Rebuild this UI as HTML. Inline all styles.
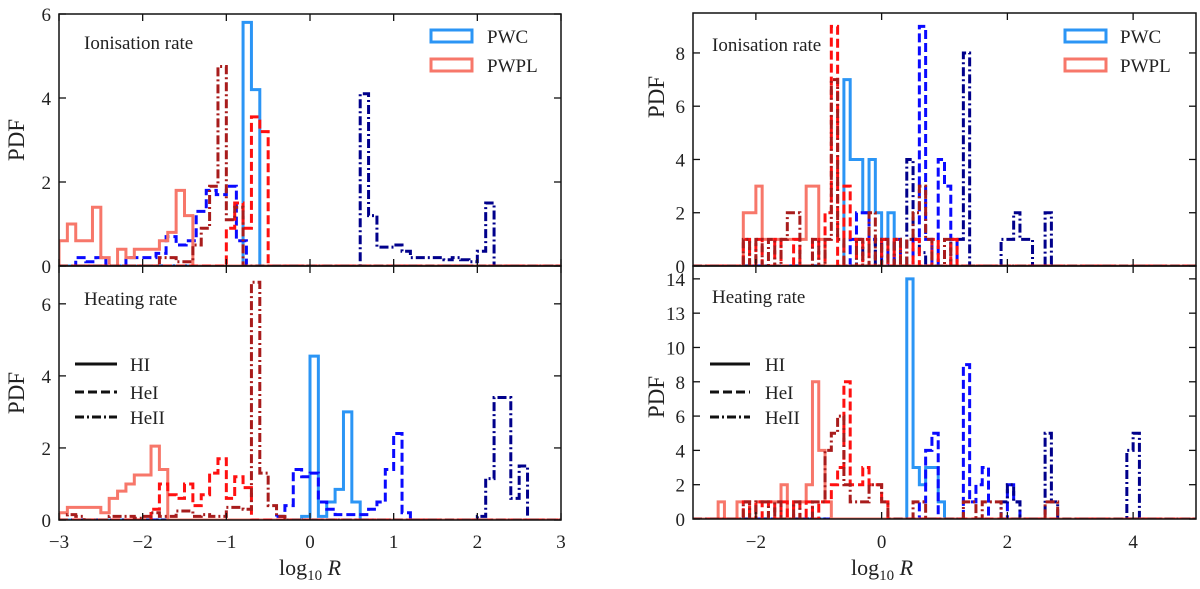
<!DOCTYPE html>
<html><head><meta charset="utf-8"><style>
body{margin:0;background:#fff}
svg text{font-family:"Liberation Serif",serif;fill:#222}
</style></head><body>
<svg id="c" width="1200" height="584" viewBox="0 0 1200 584" xmlns="http://www.w3.org/2000/svg"></svg>
<script>
// ---- data (bin start, bin width, values) ----
const ltPwcHI=[-0.8,0.1,[5.8,4.2]];
const ltPwcHeI=[-2.8,0.12,[0.2,0.1,0.2,0,0,0.2,0.2,0.2,0.3,0.7,0.5,0.6,1.3,1.8,1.7,1.9,0.6]];
const ltPwcHeII=[0.6,0.1,[4.1,1.2,0.45,0.45,0.5,0.35,0.2,0.2,0.2,0.2,0.15,0.2,0.15,0.1,0.35,1.5]];
const ltPwplHI=[-3.0,0.1,[0.6,1.0,0.6,0.6,1.4,0.2,0,0.4,0.2,0.4,0.4,0.4,0.6,0.8,1.8,1.2]];
const ltPwplHeI=[-1.0,0.1,[0.9,1.5,0.9,3.55,3.2]];
const ltPwplHeII=[-1.8,0.1,[0.2,0.2,0.1,0.1,0.5,0.9,1.9,4.75,1.1,1.4]];

const lbPwcHI=[-0.1,0.1,[0.1,4.55,0.1,0.5,0.85,3.0,0.5]];
const lbPwcHeI=[-0.4,0.1,[0.1,0.4,1.4,1.2,1.3,0.5,0.3,0.15,0.15,0.15,0.15,0.3,0.5,1.4,2.4,0.2]];
const lbPwcHeII=[2.0,0.1,[0.1,1.15,3.4,3.4,0.6,1.5]];
const lbPwplHI=[-3.0,0.1,[0.2,0.35,0.35,0.35,0.35,0.2,0.6,0.8,1.0,1.25,1.25,2.05,1.4]];
const lbPwplHeI=[-1.9,0.1,[0.3,1.0,0.7,0.6,1.0,0.4,0.7,1.3,1.7,0.6,1.2,0.9]];
const lbPwplHeII=[-2.9,0.1,[0.15,0.1,0,0,0,0.1,0.1,0.1,0.05,0.1,0.2,0.1,0.1,0.25,0.25,0.1,0.15,0.1,0.1,0.35,0.35,0.3,6.6,1.3,0.4,0.1]];

const rtPwcHI=[-0.6,0.1,[7,4,4,2,4,2,1,2]];
const rtPwcHeI=[-0.5,0.1,[1,2,2,1,0,1,0,1,0,0,1,9,1,0,4,3,1]];
const rtPwcHeII=[-0.4,0.1,[1,0,0,1,0,0,1,0,4,1,0.5,0,0,0,0,1,1,8,0,0,0,0,0,1,1,2,1,1,0,0,2]];
const rtPwplHI=[-2.2,0.1,[2,2,3,1,1,1,1,1,1,1,3,3,1]];
const rtPwplHeI=[-2.2,0.1,[1,0,1,0,0,1,0,0,1,0,0,1,0,2,9,0,3,1,0,1,0,0,1,0,1,0,0,1,0,0,1,0,0,1]];
const rtPwplHeII=[-2.2,0.1,[1,0,1,0,1,0,1,2,2,0,0,1,0,1,7,1,0,0,1,0,2,0,1,0,1,0,1,2,3,1,0,0,1]];

const rbPwcHI=[0.4,0.1,[14,3,2,3,3,1]];
const rbPwcHeI=[0.6,0.1,[1,4,5,0,0,0,0,9,1,2,3,0,0,0,2,1]];
const rbPwcHeII=[1.9,0.1,[1,2,1,0,0,0,0,5,1,0,0,0,0,0,0,0,0,0,0,0,4,5]];
const rbPwplHI=[-2.6,0.1,[1,0,0,1,1,0,1,1,1,1,2,0,1,1,2,8,4,1]];
const rbPwplHeI=[-2.2,0.1,[1,0,1,0,1,0,1,0,1,0,1,0,1,1,2,3,8,2,2,3,2,2,1]];
const rbPwplHeII=[-2.2,0.1,[1,0,1,1,0,1,0,0,1,0,0,1,1,4,5,6,2,1,1,1,2,2,1,0,0,0,0,1,1,0,0,0,0,0,0,1,1,0,1,1,1,0,0,0,0,0,0,0,1,1]];

const leftXTicks=[-3,-2,-1,0,1,2,3];
const rightXTicks=[-2,0,2,4];
const ltYTicks=[0,2,4,6];
const lbYTicks=[0,2,4,6];
const rtYTicks=[0,2,4,6,8];
const rbYTicks=[0,2,4,6,8,10,12,14];
const rbYLabels=["0","2","4","6","8","10","13","14"];

const NS="http://www.w3.org/2000/svg";
const svg=document.getElementById('c');
function el(tag,attrs,parent){const e=document.createElementNS(NS,tag);for(const k in attrs)e.setAttribute(k,attrs[k]);(parent||svg).appendChild(e);return e;}

const COL={pwcHI:'#2b95f5',pwcHeI:'#0a0aff',pwcHeII:'#00008b',pwplHI:'#f7776a',pwplHeI:'#ff1010',pwplHeII:'#a81c1c'};
const DASH={HI:'none',HeI:'9,4',HeII:'9,3,2,3'};

function makePanel(id,x0,x1,y0,y1,xmin,xmax,ymax){
  const p={id,x0,x1,y0,y1,xmin,xmax,ymax};
  p.sx=v=>x0+(v-xmin)/(xmax-xmin)*(x1-x0);
  p.sy=v=>y1-v/ymax*(y1-y0);
  const cp=el('clipPath',{id:'clip-'+id});
  el('rect',{x:x0,y:y0,width:x1-x0,height:y1-y0},cp);
  p.g=el('g',{'clip-path':'url(#clip-'+id+')'});
  
  
  return p;
}
const LT=makePanel('left-top',59,561,14,266,-3,3,6.0);
const LB=makePanel('left-bottom',59,561,266,520,-3,3,7.05);
const RT=makePanel('right-top',693,1196,13,266,-3,5,9.5);
const RB=makePanel('right-bottom',693,1196,266,519,-3,5,14.75);

function hist(p,series,colKey,ion,name){
  const [start,w,vals]=series;
  let d='M'+p.sx(p.xmin)+','+p.sy(0)+' L'+p.sx(start)+','+p.sy(0);
  vals.forEach((v,i)=>{const a=p.sx(start+i*w),b=p.sx(start+(i+1)*w);d+=' L'+a+','+p.sy(v)+' L'+b+','+p.sy(v);});
  d+=' L'+p.sx(start+vals.length*w)+','+p.sy(0)+' L'+p.sx(p.xmax)+','+p.sy(0);
  const e=el('path',{d,fill:'none',stroke:COL[colKey],'stroke-width':3,'stroke-dasharray':DASH[ion],'stroke-linejoin':'miter'},p.g);
  
  
}
hist(LT,ltPwcHI,'pwcHI','HI','lt-pwc-hi');hist(LT,ltPwcHeI,'pwcHeI','HeI','lt-pwc-hei');hist(LT,ltPwcHeII,'pwcHeII','HeII','lt-pwc-heii');
hist(LT,ltPwplHI,'pwplHI','HI','lt-pwpl-hi');hist(LT,ltPwplHeI,'pwplHeI','HeI','lt-pwpl-hei');hist(LT,ltPwplHeII,'pwplHeII','HeII','lt-pwpl-heii');
hist(LB,lbPwcHI,'pwcHI','HI','lb-pwc-hi');hist(LB,lbPwcHeI,'pwcHeI','HeI','lb-pwc-hei');hist(LB,lbPwcHeII,'pwcHeII','HeII','lb-pwc-heii');
hist(LB,lbPwplHI,'pwplHI','HI','lb-pwpl-hi');hist(LB,lbPwplHeI,'pwplHeI','HeI','lb-pwpl-hei');hist(LB,lbPwplHeII,'pwplHeII','HeII','lb-pwpl-heii');
hist(RT,rtPwcHI,'pwcHI','HI','rt-pwc-hi');hist(RT,rtPwcHeI,'pwcHeI','HeI','rt-pwc-hei');hist(RT,rtPwcHeII,'pwcHeII','HeII','rt-pwc-heii');
hist(RT,rtPwplHI,'pwplHI','HI','rt-pwpl-hi');hist(RT,rtPwplHeI,'pwplHeI','HeI','rt-pwpl-hei');hist(RT,rtPwplHeII,'pwplHeII','HeII','rt-pwpl-heii');
hist(RB,rbPwcHI,'pwcHI','HI','rb-pwc-hi');hist(RB,rbPwcHeI,'pwcHeI','HeI','rb-pwc-hei');hist(RB,rbPwcHeII,'pwcHeII','HeII','rb-pwc-heii');
hist(RB,rbPwplHI,'pwplHI','HI','rb-pwpl-hi');hist(RB,rbPwplHeI,'pwplHeI','HeI','rb-pwpl-hei');hist(RB,rbPwplHeII,'pwplHeII','HeII','rb-pwpl-heii');

function txt(x,y,s,attrs,name){const t=el('text',Object.assign({x,y},attrs||{}));t.textContent=s;return t;}

function axes(p,xticks,yticks,ylabels,showX){
  const f=el('rect',{x:p.x0,y:p.y0,width:p.x1-p.x0,height:p.y1-p.y0,fill:'none',stroke:'#111','stroke-width':1.5});
  
  
  xticks.forEach(v=>{const x=p.sx(v);
    el('line',{x1:x,x2:x,y1:p.y1,y2:p.y1-7,stroke:'#111','stroke-width':1.3});
    el('line',{x1:x,x2:x,y1:p.y0,y2:p.y0+7,stroke:'#111','stroke-width':1.3});
    if(showX)txt(x,548,(v<0?'\u2212'+(-v):String(v)),{'font-size':19,'text-anchor':'middle'},'x-tick-label');
  });
  yticks.forEach((v,i)=>{const y=p.sy(v);
    el('line',{x1:p.x0,x2:p.x0+7,y1:y,y2:y,stroke:'#111','stroke-width':1.3});
    el('line',{x1:p.x1,x2:p.x1-7,y1:y,y2:y,stroke:'#111','stroke-width':1.3});
    txt(p.x0-8,y+7,ylabels?ylabels[i]:String(v),{'font-size':19,'text-anchor':'end'},'y-tick-label');
  });
}
axes(LT,leftXTicks,ltYTicks,null,false);
axes(LB,leftXTicks,lbYTicks,null,true);
axes(RT,rightXTicks,rtYTicks,null,false);
axes(RB,rightXTicks,rbYTicks,rbYLabels,true);

txt(0,0,'PDF',{'font-size':23,'text-anchor':'middle',transform:'translate(24,140) rotate(-90)'},'y-axis-title-left-top');
txt(0,0,'PDF',{'font-size':23,'text-anchor':'middle',transform:'translate(24,393) rotate(-90)'},'y-axis-title-left-bottom');
txt(0,0,'PDF',{'font-size':23,'text-anchor':'middle',transform:'translate(664,97) rotate(-90)'},'y-axis-title-right-top');
txt(0,0,'PDF',{'font-size':23,'text-anchor':'middle',transform:'translate(664,397) rotate(-90)'},'y-axis-title-right-bottom');

function xtitle(cx,name){const t=el('text',{x:cx,y:575,'font-size':22,'text-anchor':'middle'});
  
  t.innerHTML='log<tspan font-size="15" dy="5">10</tspan><tspan dy="-5" font-style="italic"> R</tspan>';}
xtitle(310,'x-axis-title-left');xtitle(882,'x-axis-title-right');

txt(84,49,'Ionisation rate',{'font-size':19},'panel-label-ionisation-left');
txt(712,51,'Ionisation rate',{'font-size':19},'panel-label-ionisation-right');
txt(84,305,'Heating rate',{'font-size':19},'panel-label-heating-left');
txt(712,303,'Heating rate',{'font-size':19},'panel-label-heating-right');

function modelLegend(bx,tx,name){
  [['PWC',COL.pwcHI,36],['PWPL',COL.pwplHI,65]].forEach(([lab,c,y])=>{
    const r=el('rect',{x:bx,y:y-6,width:41,height:12,fill:'none',stroke:c,'stroke-width':3});
    
    txt(tx,y+7,lab,{'font-size':19},name+'-'+lab.toLowerCase()+'-label');
  });
}
modelLegend(431,487,'legend-left');
modelLegend(1065,1120,'legend-right');

function ionLegend(lx,lw,tx,name){
  [['HI','none',364],['HeI','9,4',392],['HeII','9,3,2,3',417]].forEach(([lab,d,y])=>{
    const l=el('line',{x1:lx,x2:lx+lw,y1:y,y2:y,stroke:'#111','stroke-width':3,'stroke-dasharray':d});
    
    txt(tx,y+7,lab,{'font-size':19},name+'-'+lab.toLowerCase()+'-label');
  });
}
ionLegend(75,42,130,'ion-legend-left');
ionLegend(710,40,765,'ion-legend-right');
</script>
</body></html>
